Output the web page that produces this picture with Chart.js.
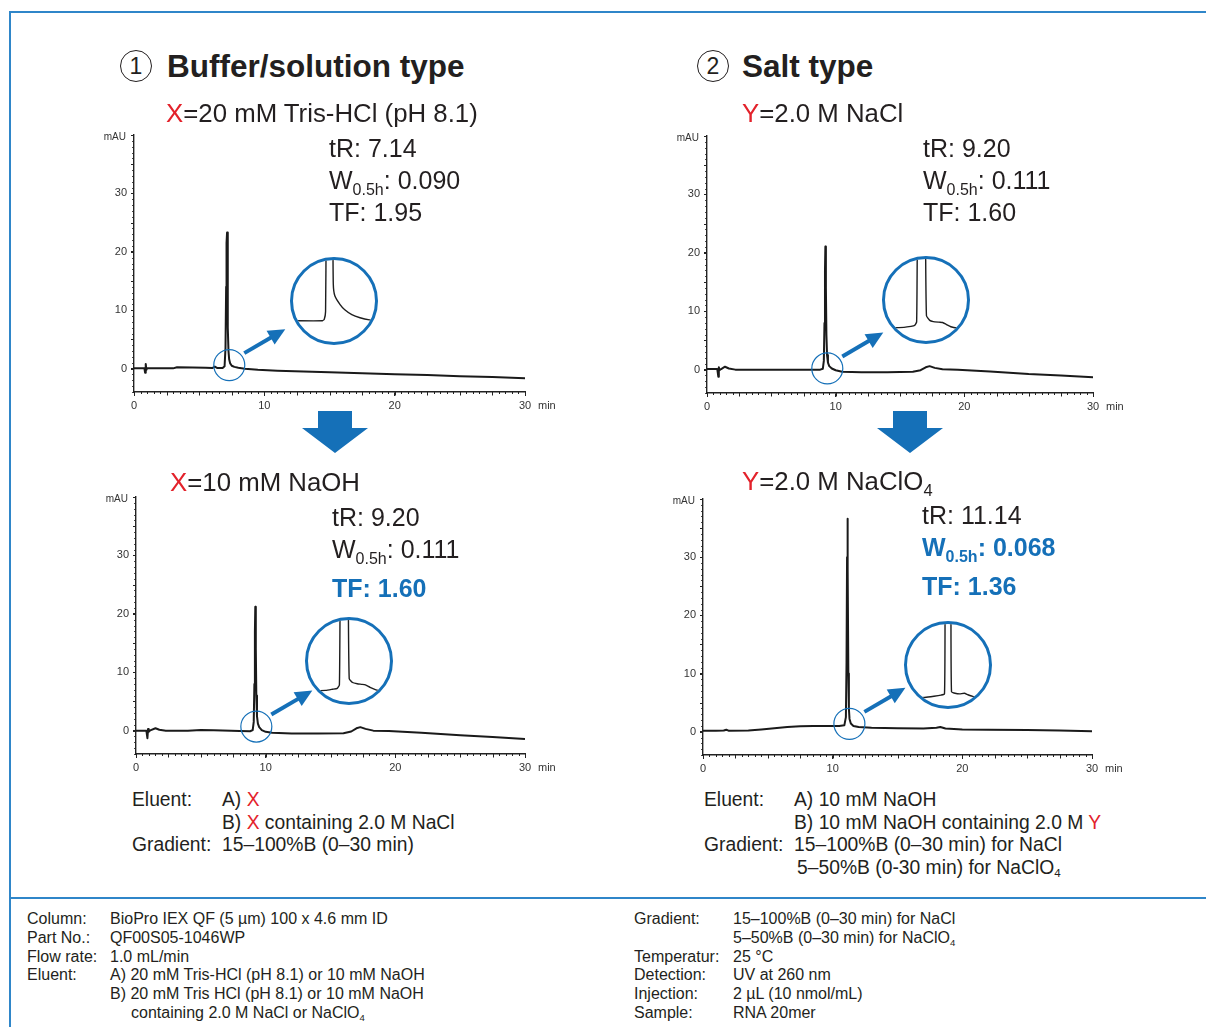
<!DOCTYPE html>
<html>
<head>
<meta charset="utf-8">
<script src="https://cdn.jsdelivr.net/npm/chart.js@4.4.1/dist/chart.umd.min.js"></script>
<style>
    body { margin: 0; background: #fff; font-family: "Liberation Sans", Arial, Helvetica, sans-serif; color: #231f20; }
    #page { position: relative; width: 1206px; height: 1027px; overflow: hidden; }
    .abs { position: absolute; white-space: nowrap; }
    .num { position: absolute; width: 30px; height: 30px; border: 1.2px solid #231f20; border-radius: 50%; font-size: 23px; line-height: 30px; text-align: center; }
    .h1 { font-size: 31.5px; font-weight: bold; line-height: 36px; }
    .h2 { font-size: 25px; line-height: 30px; }
    .hx { font-size: 25.8px; line-height: 30px; }
    .red { color: #e3222b; }
    .blue { color: #1570b8; font-weight: bold; }
    .sb { font-size: 0.64em; position: relative; top: 0.38em; }
    .el { font-size: 19.3px; line-height: 22.5px; }
    .el .lb { display: inline-block; width: 90px; }
    .ft { font-size: 16px; line-height: 18.8px; }
    .ft .lb { display: inline-block; }
    .sm { font-size: 0.6em; position: relative; top: 0.3em; line-height: 0; }
    .lens { position: absolute; width: 88px; height: 88px; box-sizing: border-box; border: 3px solid #1570b8; border-radius: 50%; overflow: hidden; background: #fff; }
    .lens canvas { display: block; }
    .line { position: absolute; background: #2f86c9; }
</style>
</head>
<body>
<div id="page">
    <div class="line" style="left:9px;top:11px;width:1197px;height:2px"></div>
    <div class="line" style="left:9px;top:11px;width:2px;height:1016px"></div>
    <div class="line" style="left:9px;top:897px;width:1197px;height:2px"></div>

    <!-- headings -->
    <div class="num" style="left:120px;top:50px">1</div>
    <div class="abs h1" style="left:167px;top:48px">Buffer/solution type</div>
    <div class="num" style="left:697px;top:50px">2</div>
    <div class="abs h1" style="left:742px;top:48px">Salt type</div>

    <div class="abs hx" style="left:166px;top:98px"><span class="red">X</span>=20 mM Tris-HCl (pH 8.1)</div>
    <div class="abs hx" style="left:742px;top:98px"><span class="red">Y</span>=2.0 M NaCl</div>
    <div class="abs hx" style="left:170px;top:467px"><span class="red">X</span>=10 mM NaOH</div>
    <div class="abs hx" style="left:742px;top:466px"><span class="red">Y</span>=2.0 M NaClO<span class="sb">4</span></div>

    <!-- peak stats -->
    <div class="abs h2" style="left:329px;top:133px">tR: 7.14</div>
    <div class="abs h2" style="left:329px;top:165px">W<span class="sb">0.5h</span>: 0.090</div>
    <div class="abs h2" style="left:329px;top:197px">TF: 1.95</div>

    <div class="abs h2" style="left:923px;top:133px">tR: 9.20</div>
    <div class="abs h2" style="left:923px;top:165px">W<span class="sb">0.5h</span>: 0.111</div>
    <div class="abs h2" style="left:923px;top:197px">TF: 1.60</div>

    <div class="abs h2" style="left:332px;top:502px">tR: 9.20</div>
    <div class="abs h2" style="left:332px;top:534px">W<span class="sb">0.5h</span>: 0.111</div>
    <div class="abs h2 blue" style="left:332px;top:573px">TF: 1.60</div>

    <div class="abs h2" style="left:922px;top:500px">tR: 11.14</div>
    <div class="abs h2 blue" style="left:922px;top:532px">W<span class="sb">0.5h</span>: 0.068</div>
    <div class="abs h2 blue" style="left:922px;top:571px">TF: 1.36</div>

    <!-- eluent notes -->
    <div class="abs el" style="left:132px;top:789px">
        <div><span class="lb">Eluent:</span>A) <span class="red">X</span></div>
        <div><span class="lb"></span>B) <span class="red">X</span> containing 2.0 M NaCl</div>
        <div><span class="lb">Gradient:</span>15–100%B (0–30 min)</div>
    </div>
    <div class="abs el" style="left:704px;top:789px">
        <div><span class="lb">Eluent:</span>A) 10 mM NaOH</div>
        <div><span class="lb"></span>B) 10 mM NaOH containing 2.0 M <span class="red">Y</span></div>
        <div><span class="lb">Gradient:</span>15–100%B (0–30 min) for NaCl</div>
        <div><span class="lb" style="width:93px"></span>5–50%B (0-30 min) for NaClO<span class="sm">4</span></div>
    </div>

    <!-- conditions -->
    <div class="abs ft" style="left:27px;top:910px">
        <div><span class="lb" style="width:83px">Column:</span>BioPro IEX QF (5 µm) 100 x 4.6 mm ID</div>
        <div><span class="lb" style="width:83px">Part No.:</span>QF00S05-1046WP</div>
        <div><span class="lb" style="width:83px">Flow rate:</span>1.0 mL/min</div>
        <div><span class="lb" style="width:83px">Eluent:</span>A) 20 mM Tris-HCl (pH 8.1) or 10 mM NaOH</div>
        <div><span class="lb" style="width:83px"></span>B) 20 mM Tris HCl (pH 8.1) or 10 mM NaOH</div>
        <div><span class="lb" style="width:104px"></span>containing 2.0 M NaCl or NaClO<span class="sm">4</span></div>
    </div>
    <div class="abs ft" style="left:634px;top:910px">
        <div><span class="lb" style="width:99px">Gradient:</span>15–100%B (0–30 min) for NaCl</div>
        <div><span class="lb" style="width:99px"></span>5–50%B (0–30 min) for NaClO<span class="sm">4</span></div>
        <div><span class="lb" style="width:99px">Temperatur:</span>25 °C</div>
        <div><span class="lb" style="width:99px">Detection:</span>UV at 260 nm</div>
        <div><span class="lb" style="width:99px">Injection:</span>2 µL (10 nmol/mL)</div>
        <div><span class="lb" style="width:99px">Sample:</span>RNA 20mer</div>
    </div>

    <svg class="abs" style="left:0;top:0" width="1206" height="1027">
        <polygon fill="#1570b8" points="318,411 352,411 352,428 368,428 335,453 302,428 318,428"/>
        <polygon fill="#1570b8" points="893,411 927,411 927,428 943,428 910,453 877,428 893,428"/>
    </svg>
</div>

<script>
// Axis ticks
const minTicks = [0, 10, 20, 30];
const mauTicks = [0, 10, 20, 30];

// Retention times (min)
const tR = [7.14, 9.20, 9.20, 11.14];

// ① X = 20 mM Tris-HCl (pH 8.1)
const trisTime = [0, 0.8, 0.85, 0.9, 0.95, 1.0, 2.0, 3.0, 3.3, 4.5, 5.5, 6.0, 6.2, 6.4, 6.8, 6.95, 7.02, 7.07, 7.10, 7.14, 7.18, 7.21, 7.25, 7.30, 7.38, 7.5, 7.7, 8.0, 8.5, 9.5, 11, 13, 15, 17.5, 20, 22.5, 25, 27.5, 30];
const trisAbs = [0.05, 0.05, -0.7, 0.8, -0.2, 0.05, 0.05, 0.05, 0.25, 0.2, 0.15, 0.1, 0.35, 0.1, 0.1, 0.4, 3.5, 14, 21.5, 23.3, 15, 7, 3, 1.6, 0.9, 0.5, 0.3, 0.15, 0, -0.2, -0.35, -0.5, -0.6, -0.8, -0.95, -1.1, -1.3, -1.45, -1.65];

// ② Y = 2.0 M NaCl (10 mM NaOH)
const naclTime = [0, 0.8, 0.88, 0.92, 0.97, 1.1, 1.4, 1.7, 2.2, 4, 6, 8, 8.8, 9.0, 9.08, 9.13, 9.17, 9.20, 9.24, 9.28, 9.33, 9.4, 9.5, 9.7, 10, 10.5, 12, 14, 16, 16.6, 17.0, 17.3, 17.7, 18.3, 19.5, 22, 25, 27.5, 30];
const naclAbs = [0.1, 0.1, -1.2, 0.4, -0.1, 0.1, 0.5, 0.2, 0, 0, 0, 0, 0, 0.15, 1.5, 8, 17, 21.1, 14, 6, 2.5, 1.2, 0.6, 0.2, -0.1, -0.35, -0.45, -0.45, -0.35, -0.1, 0.4, 0.6, 0.3, 0.05, 0, -0.3, -0.75, -1.0, -1.3];

// ① X = 10 mM NaOH
const naohTime = [0, 0.8, 0.88, 0.93, 0.98, 1.1, 1.5, 1.8, 2.3, 4, 5, 6, 8, 8.8, 9.0, 9.08, 9.13, 9.17, 9.20, 9.24, 9.28, 9.33, 9.4, 9.5, 9.7, 10, 10.5, 12, 14, 16, 16.6, 17.0, 17.3, 17.7, 18.3, 19.5, 22, 25, 27.5, 30];
const naohAbs = [0, 0, -1.3, 0.3, -0.2, 0.05, 0.4, 0.15, 0, 0, 0.1, 0.05, -0.05, -0.1, 0.1, 1.5, 8, 17, 21.2, 14, 6, 2.5, 1.2, 0.6, 0.1, -0.2, -0.35, -0.5, -0.5, -0.45, -0.15, 0.4, 0.6, 0.3, 0, -0.05, -0.35, -0.8, -1.1, -1.45];

// ② Y = 2.0 M NaClO4
const perTime = [0, 1.0, 1.6, 1.8, 2.0, 3.5, 4.5, 5.5, 6.5, 7.5, 8.5, 9.5, 10.5, 10.9, 11.02, 11.07, 11.11, 11.14, 11.17, 11.21, 11.25, 11.3, 11.4, 11.6, 12, 13, 15, 17, 18.0, 18.3, 18.7, 20, 22, 25, 27.5, 30];
const perAbs = [0.15, 0.15, 0.2, 0.35, 0.15, 0.2, 0.4, 0.6, 0.8, 0.95, 1.0, 1.0, 1.0, 1.1, 2.5, 12, 30, 36.6, 28, 10, 4, 2.2, 1.4, 1.0, 0.8, 0.7, 0.6, 0.55, 0.7, 0.8, 0.55, 0.4, 0.35, 0.3, 0.2, 0.1];

// Magnified peak bases (min from tR, relative mAU)
const inTrisDt = [-0.32, -0.06, -0.045, -0.034, -0.029, 0, 0.028, 0.032, 0.045, 0.09, 0.13, 0.19, 0.26, 0.34, 0.39];
const inTrisAbs = [0, 0, 0.05, 0.3, 3, 20, 3, 1.2, 0.82, 0.53, 0.36, 0.2, 0.1, 0.03, 0.02];
const inNaclDt = [-0.32, -0.15, -0.09, -0.06, -0.042, -0.036, 0, 0.034, 0.042, 0.07, 0.1, 0.15, 0.18, 0.21, 0.25, 0.3, 0.4];
const inNaclAbs = [0, 0.02, 0.05, 0.08, 0.2, 3, 20, 3, 0.4, 0.25, 0.21, 0.19, 0.18, 0.12, 0.04, 0, 0];
const inNaohDt = [-0.32, -0.16, -0.1, -0.06, -0.042, -0.036, 0, 0.034, 0.042, 0.07, 0.11, 0.15, 0.18, 0.22, 0.27, 0.32, 0.4];
const inNaohAbs = [0, 0.02, 0.06, 0.09, 0.2, 3, 20, 3, 0.4, 0.28, 0.24, 0.22, 0.2, 0.12, 0.04, 0, 0];
const inPerDt = [-0.35, -0.2, -0.12, -0.06, -0.03, -0.025, 0, 0.025, 0.03, 0.06, 0.1, 0.14, 0.17, 0.2, 0.24, 0.3, 0.35];
const inPerAbs = [0, 0.03, 0.07, 0.11, 0.15, 3, 20, 3, 0.22, 0.17, 0.15, 0.17, 0.12, 0.08, 0.03, 0, 0];

const FONT = '"Liberation Sans", Arial, Helvetica, sans-serif';
const BLUE = '#1570b8';
const INK = '#222';
Chart.defaults.font.family = FONT;
Chart.defaults.color = '#333';

const page = document.getElementById('page');

// minor ticks, axis captions, lens circle and pointer arrow
const decor = {
    id: 'decor',
    afterDraw(chart, args, o) {
        const { ctx, chartArea: a, scales: { x, y } } = chart;
        ctx.save();
        ctx.strokeStyle = INK;
        ctx.lineWidth = 1;
        for (let v = 0; v <= 30; v += 0.5) {
            const px = Math.round(x.getPixelForValue(v)) + 0.5;
            const len = v % 2.5 === 0 ? 3.5 : 2;
            ctx.beginPath(); ctx.moveTo(px, a.bottom); ctx.lineTo(px, a.bottom + len); ctx.stroke();
        }
        for (let v = -4; v <= 40; v += 1) {
            const py = Math.round(y.getPixelForValue(v)) + 0.5;
            const len = v % 5 === 0 ? 3 : 1.8;
            ctx.beginPath(); ctx.moveTo(a.left, py); ctx.lineTo(a.left - len, py); ctx.stroke();
        }
        ctx.fillStyle = '#333';
        ctx.font = '10px ' + FONT;
        ctx.textBaseline = 'middle';
        ctx.textAlign = 'right';
        ctx.fillText('mAU', a.left - 8, a.top + 2);
        ctx.textAlign = 'left';
        ctx.font = '11px ' + FONT;
        ctx.fillText('min', a.right + 13, a.bottom + 14);

        // lens circle at the peak base
        const cx = x.getPixelForValue(o.lensX), cy = y.getPixelForValue(o.lensY);
        ctx.strokeStyle = BLUE;
        ctx.lineWidth = 1.2;
        ctx.beginPath(); ctx.arc(cx, cy, 15.5, 0, Math.PI * 2); ctx.stroke();

        // arrow to the magnified view
        const tx = cx + 15, ty = cy - 12, px = cx + 56, py = cy - 36;
        const dx = px - tx, dy = py - ty, L = Math.hypot(dx, dy);
        const ux = dx / L, uy = dy / L, nx = -uy, ny = ux;
        ctx.lineWidth = 4;
        ctx.beginPath(); ctx.moveTo(tx, ty); ctx.lineTo(px - ux * 12, py - uy * 12); ctx.stroke();
        ctx.fillStyle = BLUE;
        ctx.beginPath();
        ctx.moveTo(px, py);
        ctx.lineTo(px - ux * 17 + nx * 8, py - uy * 17 + ny * 8);
        ctx.lineTo(px - ux * 17 - nx * 8, py - uy * 17 - ny * 8);
        ctx.closePath(); ctx.fill();
        ctx.restore();
    }
};

function mainChart(p) {
    const W = 45 + p.w + 45, H = 12 + p.h + 30;
    const cv = document.createElement('canvas');
    cv.width = W; cv.height = H;
    cv.style.cssText = `position:absolute;left:${p.x - 45}px;top:${p.y - 12}px;width:${W}px;height:${H}px`;
    page.insertBefore(cv, page.firstChild);
    new Chart(cv, {
        type: 'line',
        data: {
            datasets: [{
                data: p.time.map((t, i) => ({ x: t, y: p.abs[i] })),
                borderColor: '#1a1a1a',
                borderWidth: 2,
                borderJoinStyle: 'round',
                pointRadius: 0,
                tension: 0
            }]
        },
        options: {
            responsive: false,
            animation: false,
            events: [],
            layout: { padding: { left: 0, top: 12, right: 45, bottom: 0 } },
            plugins: {
                legend: { display: false },
                tooltip: { enabled: false },
                decor: { lensX: p.lensX, lensY: p.lensY }
            },
            scales: {
                x: {
                    type: 'linear',
                    min: 0,
                    max: 30,
                    border: { color: INK, width: 1.4 },
                    grid: { drawOnChartArea: false, tickLength: 4, color: INK },
                    ticks: { font: { size: 11 }, padding: 3, maxRotation: 0 },
                    afterBuildTicks: s => { s.ticks = minTicks.map(v => ({ value: v })); },
                    afterFit: s => { s.height = 30; }
                },
                y: {
                    min: -4,
                    max: 40,
                    border: { color: INK, width: 1.4 },
                    grid: { drawOnChartArea: false, tickLength: 3, color: INK },
                    ticks: { font: { size: 11 }, padding: 4 },
                    afterBuildTicks: s => { s.ticks = mauTicks.map(v => ({ value: v })); },
                    afterFit: s => { s.width = 45; }
                }
            }
        },
        plugins: [decor]
    });
}

function insetChart(p) {
    const d = document.createElement('div');
    d.className = 'lens';
    d.style.left = (p.cx - 44) + 'px';
    d.style.top = (p.cy - 44) + 'px';
    const cv = document.createElement('canvas');
    cv.width = 82; cv.height = 82;
    d.appendChild(cv);
    page.appendChild(d);
    new Chart(cv, {
        type: 'line',
        data: {
            datasets: [{
                data: p.dt.map((t, i) => ({ x: p.tR + t, y: p.abs[i] })),
                borderColor: '#1d1d1d',
                borderWidth: 1.4,
                borderJoinStyle: 'round',
                pointRadius: 0,
                tension: 0.15
            }]
        },
        options: {
            responsive: false,
            animation: false,
            events: [],
            plugins: { legend: { display: false }, tooltip: { enabled: false } },
            scales: {
                x: { type: 'linear', display: false, min: p.tR - p.before, max: p.tR + p.after },
                y: { display: false, min: p.yMin, max: p.yMax }
            }
        }
    });
}

mainChart({ x: 134, y: 135, w: 391, h: 257, time: trisTime, abs: trisAbs, lensX: 7.31, lensY: 0.6 });
mainChart({ x: 707, y: 136, w: 386, h: 257, time: naclTime, abs: naclAbs, lensX: 9.35, lensY: 0.2 });
mainChart({ x: 136, y: 497, w: 389, h: 257, time: naohTime, abs: naohAbs, lensX: 9.28, lensY: 0.7 });
mainChart({ x: 703, y: 499, w: 389, h: 256, time: perTime, abs: perAbs, lensX: 11.29, lensY: 1.35 });

insetChart({ cx: 334, cy: 301, tR: tR[0], dt: inTrisDt, abs: inTrisAbs, before: 0.312, after: 0.388, yMin: -0.7, yMax: 2.0 });
insetChart({ cx: 925.5, cy: 300.3, tR: tR[1], dt: inNaclDt, abs: inNaclAbs, before: 0.312, after: 0.388, yMin: -0.43, yMax: 2.27 });
insetChart({ cx: 349.2, cy: 660.8, tR: tR[2], dt: inNaohDt, abs: inNaohAbs, before: 0.31, after: 0.39, yMin: -0.36, yMax: 2.33 });
insetChart({ cx: 948.2, cy: 664.8, tR: tR[3], dt: inPerDt, abs: inPerAbs, before: 0.35, after: 0.35, yMin: -0.25, yMax: 2.45 });
</script>
</body>
</html>
